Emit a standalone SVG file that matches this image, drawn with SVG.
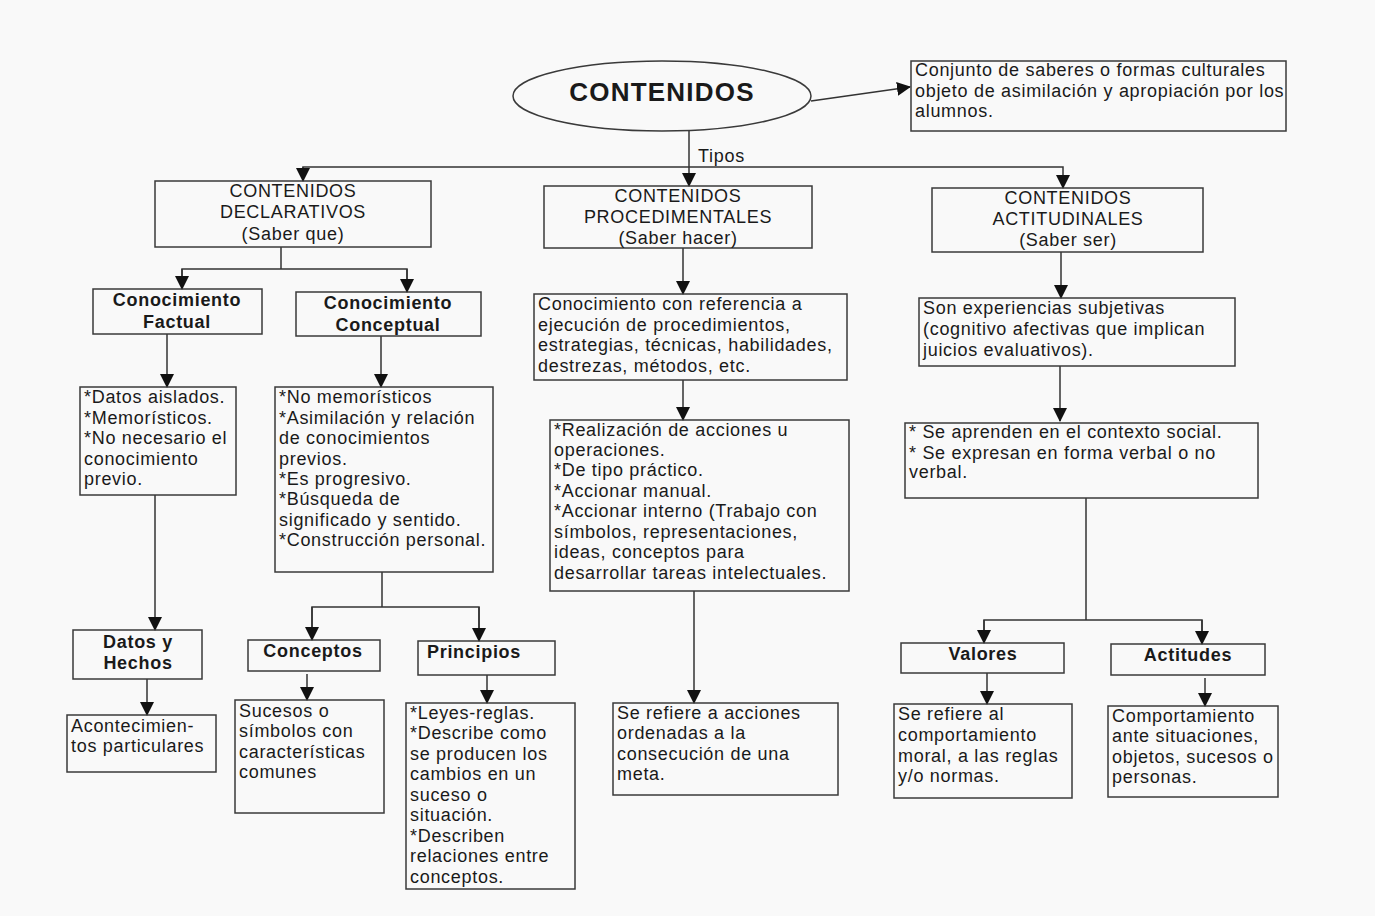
<svg xmlns="http://www.w3.org/2000/svg" width="1375" height="916" viewBox="0 0 1375 916">
<defs>
<style>
.bg{fill:#f9f9f9}
.box{fill:none;stroke:#3a3a3a;stroke-width:1.5}
.ln{fill:none;stroke:#333;stroke-width:1.5}
.t{font-family:"Liberation Sans",Arial,sans-serif;font-size:18px;letter-spacing:0.7px;fill:#1a1a1a}
.c{text-anchor:middle}
.b{font-weight:bold}
</style>
<marker id="ah" markerUnits="userSpaceOnUse" markerWidth="14" markerHeight="14" refX="13" refY="7" orient="auto" viewBox="0 0 14 14">
<path d="M0,0 L14,7 L0,14 z" fill="#111"/>
</marker>
</defs>
<rect class="bg" x="0" y="0" width="1375" height="916"/>

<g id="connectors">
<line class="ln" x1="811" y1="101" x2="910" y2="87" marker-end="url(#ah)"/>
<line class="ln" x1="689" y1="131" x2="689" y2="186" marker-end="url(#ah)"/>
<polyline class="ln" points="303,181 303,167 1063,167 1063,188" marker-end="url(#ah)"/>
<line class="ln" x1="303" y1="167" x2="303" y2="181" marker-end="url(#ah)"/>
<polyline class="ln" points="281,247 281,269"/>
<polyline class="ln" points="182,289 182,269 407,269 407,292"/>
<line class="ln" x1="182" y1="269" x2="182" y2="289" marker-end="url(#ah)"/>
<line class="ln" x1="407" y1="269" x2="407" y2="292" marker-end="url(#ah)"/>
<line class="ln" x1="167" y1="334" x2="167" y2="387" marker-end="url(#ah)"/>
<line class="ln" x1="381" y1="336" x2="381" y2="387" marker-end="url(#ah)"/>
<line class="ln" x1="155" y1="495" x2="155" y2="630" marker-end="url(#ah)"/>
<line class="ln" x1="147" y1="679" x2="147" y2="715" marker-end="url(#ah)"/>
<polyline class="ln" points="382,572 382,607"/>
<polyline class="ln" points="312,640 312,607 479,607 479,641"/>
<line class="ln" x1="312" y1="607" x2="312" y2="640" marker-end="url(#ah)"/>
<line class="ln" x1="479" y1="607" x2="479" y2="641" marker-end="url(#ah)"/>
<line class="ln" x1="307" y1="674" x2="307" y2="700" marker-end="url(#ah)"/>
<line class="ln" x1="487" y1="675" x2="487" y2="703" marker-end="url(#ah)"/>
<line class="ln" x1="683" y1="248" x2="683" y2="294" marker-end="url(#ah)"/>
<line class="ln" x1="683" y1="380" x2="683" y2="420" marker-end="url(#ah)"/>
<line class="ln" x1="694" y1="591" x2="694" y2="703" marker-end="url(#ah)"/>
<line class="ln" x1="1061" y1="252" x2="1061" y2="298" marker-end="url(#ah)"/>
<line class="ln" x1="1060" y1="366" x2="1060" y2="421" marker-end="url(#ah)"/>
<polyline class="ln" points="1086,498 1086,620"/>
<polyline class="ln" points="984,643 984,620 1202,620 1202,644"/>
<line class="ln" x1="984" y1="620" x2="984" y2="643" marker-end="url(#ah)"/>
<line class="ln" x1="1202" y1="620" x2="1202" y2="644" marker-end="url(#ah)"/>
<line class="ln" x1="987" y1="673" x2="987" y2="704" marker-end="url(#ah)"/>
<line class="ln" x1="1205" y1="678" x2="1205" y2="706" marker-end="url(#ah)"/>
<text class="t" x="698" y="162">Tipos</text>
</g>

<g id="n-contenidos">
<ellipse class="box" cx="662" cy="96" rx="149" ry="35"/>
<text class="t c b" x="662" y="101" style="font-size:26px;letter-spacing:1.2px">CONTENIDOS</text>
</g>
<g id="n-definicion">
<rect class="box" x="911" y="61" width="375" height="70"/>
<text class="t" x="915" y="76">Conjunto de saberes o formas culturales</text>
<text class="t" x="915" y="97">objeto de asimilación y apropiación por los</text>
<text class="t" x="915" y="117">alumnos.</text>
</g>

<g id="n-declarativos">
<rect class="box" x="155" y="181" width="276" height="66"/>
<text class="t c" x="293" y="197">CONTENIDOS</text>
<text class="t c" x="293" y="218">DECLARATIVOS</text>
<text class="t c" x="293" y="240">(Saber que)</text>
</g>
<g id="n-procedimentales">
<rect class="box" x="544" y="186" width="268" height="62"/>
<text class="t c" x="678" y="202">CONTENIDOS</text>
<text class="t c" x="678" y="223">PROCEDIMENTALES</text>
<text class="t c" x="678" y="244">(Saber hacer)</text>
</g>
<g id="n-actitudinales">
<rect class="box" x="932" y="188" width="271" height="64"/>
<text class="t c" x="1068" y="204">CONTENIDOS</text>
<text class="t c" x="1068" y="225">ACTITUDINALES</text>
<text class="t c" x="1068" y="246">(Saber ser)</text>
</g>

<g id="n-factual">
<rect class="box" x="93" y="289" width="169" height="45"/>
<text class="t c b" x="177" y="306">Conocimiento</text>
<text class="t c b" x="177" y="328">Factual</text>
</g>
<g id="n-conceptual">
<rect class="box" x="296" y="292" width="185" height="44"/>
<text class="t c b" x="388" y="309">Conocimiento</text>
<text class="t c b" x="388" y="331">Conceptual</text>
</g>

<g id="n-factual-desc">
<rect class="box" x="80" y="387" width="156" height="108"/>
<text class="t" x="84" y="403">*Datos aislados.</text>
<text class="t" x="84" y="424">*Memorísticos.</text>
<text class="t" x="84" y="444">*No necesario el</text>
<text class="t" x="84" y="465">conocimiento</text>
<text class="t" x="84" y="485">previo.</text>
</g>
<g id="n-conceptual-desc">
<rect class="box" x="275" y="387" width="218" height="185"/>
<text class="t" x="279" y="403">*No memorísticos</text>
<text class="t" x="279" y="424">*Asimilación y relación</text>
<text class="t" x="279" y="444">de conocimientos</text>
<text class="t" x="279" y="465">previos.</text>
<text class="t" x="279" y="485">*Es progresivo.</text>
<text class="t" x="279" y="505">*Búsqueda de</text>
<text class="t" x="279" y="526">significado y sentido.</text>
<text class="t" x="279" y="546">*Construcción personal.</text>
</g>

<g id="n-datos">
<rect class="box" x="73" y="630" width="129" height="49"/>
<text class="t c b" x="138" y="648">Datos y</text>
<text class="t c b" x="138" y="669">Hechos</text>
</g>
<g id="n-acontecimientos">
<rect class="box" x="67" y="715" width="149" height="57"/>
<text class="t" x="71" y="732">Acontecimien-</text>
<text class="t" x="71" y="752">tos particulares</text>
</g>

<g id="n-conceptos">
<rect class="box" x="248" y="640" width="132" height="31"/>
<text class="t c b" x="313" y="657">Conceptos</text>
</g>
<g id="n-principios">
<rect class="box" x="418" y="641" width="137" height="34"/>
<text class="t b" x="427" y="658">Principios</text>
</g>
<g id="n-sucesos">
<rect class="box" x="235" y="700" width="149" height="113"/>
<text class="t" x="239" y="717">Sucesos o</text>
<text class="t" x="239" y="737">símbolos con</text>
<text class="t" x="239" y="758">características</text>
<text class="t" x="239" y="778">comunes</text>
</g>
<g id="n-leyes">
<rect class="box" x="406" y="703" width="169" height="186"/>
<text class="t" x="410" y="719">*Leyes-reglas.</text>
<text class="t" x="410" y="739">*Describe como</text>
<text class="t" x="410" y="760">se producen los</text>
<text class="t" x="410" y="780">cambios en un</text>
<text class="t" x="410" y="801">suceso o</text>
<text class="t" x="410" y="821">situación.</text>
<text class="t" x="410" y="842">*Describen</text>
<text class="t" x="410" y="862">relaciones entre</text>
<text class="t" x="410" y="883">conceptos.</text>
</g>

<g id="n-proc-desc">
<rect class="box" x="534" y="294" width="313" height="86"/>
<text class="t" x="538" y="310">Conocimiento con referencia a</text>
<text class="t" x="538" y="331">ejecución de procedimientos,</text>
<text class="t" x="538" y="351">estrategias, técnicas, habilidades,</text>
<text class="t" x="538" y="372">destrezas, métodos, etc.</text>
</g>
<g id="n-proc-list">
<rect class="box" x="550" y="420" width="299" height="171"/>
<text class="t" x="554" y="436">*Realización de acciones u</text>
<text class="t" x="554" y="456">operaciones.</text>
<text class="t" x="554" y="476">*De tipo práctico.</text>
<text class="t" x="554" y="497">*Accionar manual.</text>
<text class="t" x="554" y="517">*Accionar interno (Trabajo con</text>
<text class="t" x="554" y="538">símbolos, representaciones,</text>
<text class="t" x="554" y="558">ideas, conceptos para</text>
<text class="t" x="554" y="579">desarrollar tareas intelectuales.</text>
</g>
<g id="n-proc-meta">
<rect class="box" x="613" y="703" width="225" height="92"/>
<text class="t" x="617" y="719">Se refiere a acciones</text>
<text class="t" x="617" y="739">ordenadas a la</text>
<text class="t" x="617" y="760">consecución de una</text>
<text class="t" x="617" y="780">meta.</text>
</g>

<g id="n-act-desc">
<rect class="box" x="919" y="298" width="316" height="68"/>
<text class="t" x="923" y="314">Son experiencias subjetivas</text>
<text class="t" x="923" y="335">(cognitivo afectivas que implican</text>
<text class="t" x="923" y="356">juicios evaluativos).</text>
</g>
<g id="n-act-list">
<rect class="box" x="905" y="423" width="353" height="75"/>
<text class="t" x="909" y="438">* Se aprenden en el contexto social.</text>
<text class="t" x="909" y="459">* Se expresan en forma verbal o no</text>
<text class="t" x="909" y="478">verbal.</text>
</g>
<g id="n-valores">
<rect class="box" x="901" y="643" width="163" height="30"/>
<text class="t c b" x="983" y="660">Valores</text>
</g>
<g id="n-actitudes">
<rect class="box" x="1111" y="644" width="154" height="31"/>
<text class="t c b" x="1188" y="661">Actitudes</text>
</g>
<g id="n-valores-desc">
<rect class="box" x="894" y="704" width="178" height="94"/>
<text class="t" x="898" y="720">Se refiere al</text>
<text class="t" x="898" y="741">comportamiento</text>
<text class="t" x="898" y="762">moral, a las reglas</text>
<text class="t" x="898" y="782">y/o normas.</text>
</g>
<g id="n-actitudes-desc">
<rect class="box" x="1108" y="706" width="170" height="91"/>
<text class="t" x="1112" y="722">Comportamiento</text>
<text class="t" x="1112" y="742">ante situaciones,</text>
<text class="t" x="1112" y="763">objetos, sucesos o</text>
<text class="t" x="1112" y="783">personas.</text>
</g>
</svg>
